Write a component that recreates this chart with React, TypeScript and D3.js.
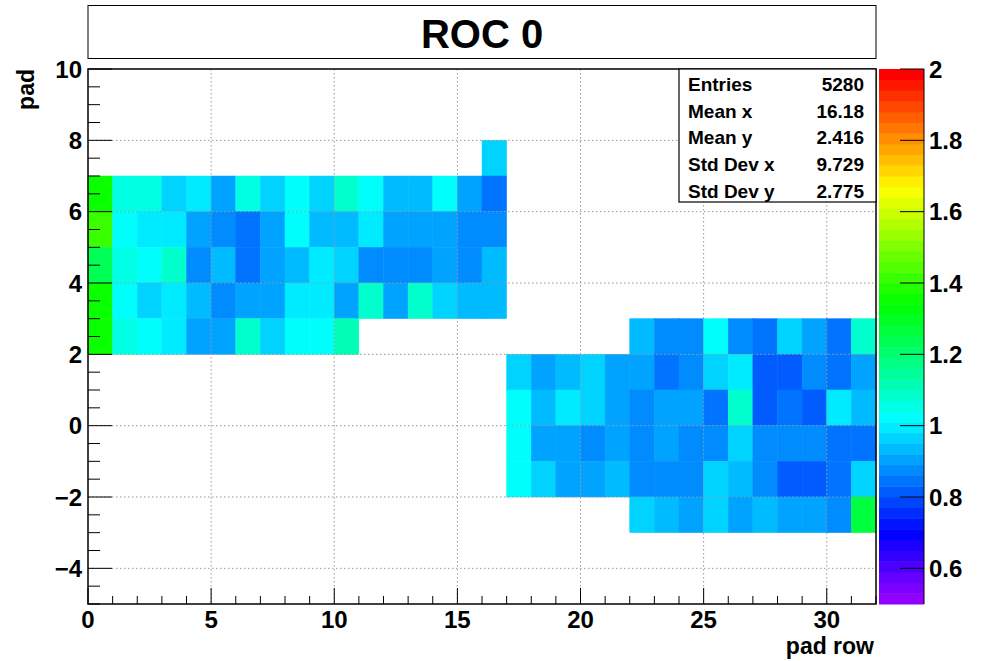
import { useEffect, useRef } from "react";
import * as d3 from "d3";

const N = null;

// one array per pad bin (lower edge), 32 pad-row bins each, null = empty
const padBins = [7, 6, 5, 4, 3, 2, 1, 0, -1, -2, -3];

const pad7 = [N, N, N, N, N, N, N, N, N, N, N, N, N, N, N, N, 0.965, N, N, N, N, N, N, N, N, N, N, N, N, N, N, N];
const pad6 = [1.34, 1.055, 1.055, 0.955, 0.995, 0.905, 1.06, 0.965, 1.025, 0.95, 1.085, 1.025, 0.94, 0.94, 1.025, 0.895, 0.845, N, N, N, N, N, N, N, N, N, N, N, N, N, N, N];
const pad5 = [1.415, 1.025, 0.995, 0.995, 0.905, 0.875, 0.845, 0.905, 1.025, 0.92, 0.92, 0.995, 0.905, 0.905, 0.905, 0.875, 0.875, N, N, N, N, N, N, N, N, N, N, N, N, N, N, N];
const pad4 = [1.235, 1.055, 1.025, 1.07, 0.875, 0.925, 0.845, 0.905, 0.935, 0.995, 0.955, 0.885, 0.875, 0.875, 0.895, 0.875, 0.935, N, N, N, N, N, N, N, N, N, N, N, N, N, N, N];
const pad3 = [1.34, 1.025, 0.965, 0.995, 0.935, 0.875, 0.915, 0.905, 0.995, 0.995, 0.895, 1.085, 0.895, 1.085, 0.965, 0.92, 0.92, N, N, N, N, N, N, N, N, N, N, N, N, N, N, N];
const pad2 = [1.34, 1.055, 1.025, 0.995, 0.905, 0.905, 1.085, 0.95, 1.025, 1.025, 1.12, N, N, N, N, N, N, N, N, N, N, N, 0.935, 0.875, 0.875, 1.025, 0.875, 0.845, 0.965, 0.905, 0.845, 1.085];
const pad1 = [N, N, N, N, N, N, N, N, N, N, N, N, N, N, N, N, N, 0.955, 0.905, 0.92, 0.955, 0.905, 0.915, 0.845, 0.875, 0.965, 0.995, 0.815, 0.815, 0.875, 0.845, 0.895];
const pad0 = [N, N, N, N, N, N, N, N, N, N, N, N, N, N, N, N, N, 1.025, 0.92, 0.995, 0.955, 0.905, 0.875, 0.905, 0.905, 0.845, 1.07, 0.815, 0.845, 0.815, 0.995, 0.935];
const padM1 = [N, N, N, N, N, N, N, N, N, N, N, N, N, N, N, N, N, 1.025, 0.895, 0.895, 0.86, 0.895, 0.875, 0.905, 0.875, 0.875, 0.965, 0.875, 0.875, 0.875, 0.845, 0.845];
const padM2 = [N, N, N, N, N, N, N, N, N, N, N, N, N, N, N, N, N, 1.025, 0.965, 0.895, 0.895, 0.925, 0.875, 0.875, 0.875, 0.965, 0.935, 0.875, 0.815, 0.815, 0.845, 0.965];
const padM3 = [N, N, N, N, N, N, N, N, N, N, N, N, N, N, N, N, N, N, N, N, N, N, 0.965, 0.935, 0.905, 0.965, 0.905, 0.935, 0.905, 0.905, 0.875, 1.265];

const rows = [pad7, pad6, pad5, pad4, pad3, pad2, pad1, pad0, padM1, padM2, padM3];

const xMajor = [0, 5, 10, 15, 20, 25, 30];
const yMajor = [-4, -2, 0, 2, 4, 6, 8, 10];
const zTicks = [0.6, 0.8, 1, 1.2, 1.4, 1.6, 1.8, 2];

const statLabels = ["Entries", "Mean x", "Mean y", "Std Dev x", "Std Dev y"];
const statValues = ["5280", "16.18", "2.416", "9.729", "2.775"];

const FONT = "'Liberation Sans', Arial, Helvetica, sans-serif";

// ROOT "pretty" palette: 50 colours, hue 280 -> 0
const nColors = 50;
const zMin = 0.5;
const zMax = 2;
const paletteColor = (i: number) => d3.hsl(280 - (i + 1) * (280 / nColors), 1, 0.5).formatHex();
const colorOf = (v: number) => {
  let i = Math.floor(((v - zMin) / (zMax - zMin)) * nColors);
  i = Math.max(0, Math.min(nColors - 1, i));
  return paletteColor(i);
};

const App = () => {
  const svgRef = useRef<SVGSVGElement>(null);

  useEffect(() => {
    const left = 88;
    const right = 876;
    const top = 69;
    const bottom = 604;

    const svg = d3.select(svgRef.current);
    svg.selectAll("*").remove();

    const x = d3.scaleLinear().domain([0, 32]).range([left, right]);
    const y = d3.scaleLinear().domain([-5, 10]).range([bottom, top]);
    const z = d3.scaleLinear().domain([zMin, zMax]).range([bottom, top]);

    // title box
    svg.append("rect").attr("x", left).attr("y", 5.5).attr("width", right - left).attr("height", 53)
      .attr("fill", "white").attr("stroke", "black").attr("stroke-width", 1);
    svg.append("text").attr("x", (left + right) / 2).attr("y", 48).attr("text-anchor", "middle")
      .attr("font-family", FONT).attr("font-weight", "bold").attr("font-size", 40).text("ROC 0");

    // cells
    const cells: { px: number; py: number; v: number }[] = [];
    rows.forEach((row, r) => {
      row.forEach((v, c) => {
        if (v !== null) cells.push({ px: c, py: padBins[r], v });
      });
    });
    svg.append("g").selectAll("rect").data(cells).enter().append("rect")
      .attr("x", (d) => x(d.px))
      .attr("y", (d) => y(d.py + 1))
      .attr("width", (d) => x(d.px + 1) - x(d.px))
      .attr("height", (d) => y(d.py) - y(d.py + 1))
      .attr("fill", (d) => colorOf(d.v))
      .attr("stroke", (d) => colorOf(d.v))
      .attr("stroke-width", 0.5);

    // grid
    const grid = svg.append("g").attr("stroke", "#999").attr("stroke-width", 1).attr("stroke-dasharray", "1.5,2.5");
    grid.selectAll(".gx").data(xMajor.filter((v) => v > 0)).enter().append("line")
      .attr("x1", (d) => x(d)).attr("x2", (d) => x(d)).attr("y1", top).attr("y2", bottom);
    grid.selectAll(".gy").data(yMajor.filter((v) => v < 10)).enter().append("line")
      .attr("y1", (d) => y(d)).attr("y2", (d) => y(d)).attr("x1", left).attr("x2", right);

    // ticks
    const ticks = svg.append("g").attr("stroke", "black").attr("stroke-width", 1);
    ticks.selectAll(".tx").data(d3.range(0, 33, 1)).enter().append("line")
      .attr("x1", (d) => x(d)).attr("x2", (d) => x(d)).attr("y1", bottom)
      .attr("y2", (d) => bottom - (d % 5 === 0 ? 16 : 8));
    ticks.selectAll(".ty").data(d3.range(-5, 10.01, 0.5)).enter().append("line")
      .attr("y1", (d) => y(d)).attr("y2", (d) => y(d)).attr("x1", left)
      .attr("x2", (d) => left + (Math.abs(d % 2) < 1e-6 ? 24 : 12));

    // frame
    svg.append("rect").attr("x", left).attr("y", top).attr("width", right - left).attr("height", bottom - top)
      .attr("fill", "none").attr("stroke", "black").attr("stroke-width", 1.5);

    // axis labels
    const txt = (sel: d3.Selection<SVGTextElement, any, any, any>, size: number) =>
      sel.attr("font-family", FONT).attr("font-weight", "bold").attr("font-size", size);
    txt(svg.append("g").selectAll("text").data(xMajor).enter().append("text")
      .attr("x", (d) => x(d)).attr("y", 628).attr("text-anchor", "middle").text((d) => String(d)), 24);
    txt(svg.append("g").selectAll("text").data(yMajor).enter().append("text")
      .attr("x", 82).attr("y", (d) => y(d)).attr("dy", "0.36em").attr("text-anchor", "end")
      .text((d) => (d < 0 ? "\u2212" + Math.abs(d) : String(d))), 24);
    txt(svg.append("text").attr("x", 874).attr("y", 654).attr("text-anchor", "end").text("pad row"), 23);
    txt(svg.append("text").attr("transform", `translate(34,${top}) rotate(-90)`).attr("text-anchor", "end").text("pad"), 23);

    // palette
    const pal = svg.append("g");
    const pl = 879;
    const pr = 924;
    pal.selectAll("rect").data(d3.range(nColors)).enter().append("rect")
      .attr("x", pl).attr("width", pr - pl)
      .attr("y", (i) => z(zMin + ((i + 1) * (zMax - zMin)) / nColors))
      .attr("height", (bottom - top) / nColors + 0.5)
      .attr("fill", (i) => paletteColor(i));
    pal.append("line").attr("x1", pr).attr("x2", pr).attr("y1", top).attr("y2", bottom).attr("stroke", "black");
    pal.selectAll(".zt").data(zTicks).enter().append("line")
      .attr("x1", pr - 24).attr("x2", pr).attr("y1", (d) => z(d)).attr("y2", (d) => z(d)).attr("stroke", "black");
    txt(pal.selectAll(".zl").data(zTicks).enter().append("text")
      .attr("x", 929).attr("y", (d) => z(d)).attr("dy", "0.36em").text((d) => String(d)), 24);

    // stats box
    const sTop = 69;
    const sBot = 202;
    const sl = 679;
    svg.append("rect").attr("x", sl).attr("y", sTop).attr("width", right - sl).attr("height", sBot - sTop)
      .attr("fill", "white").attr("stroke", "black").attr("stroke-width", 1.2);
    const rowH = (sBot - sTop) / statLabels.length;
    txt(svg.append("g").selectAll("text").data(statLabels).enter().append("text")
      .attr("x", 688).attr("y", (d, i) => sTop + rowH * (i + 0.5) + 2).attr("dy", "0.36em").text((d) => d), 19);
    txt(svg.append("g").selectAll("text").data(statValues).enter().append("text")
      .attr("x", 864).attr("y", (d, i) => sTop + rowH * (i + 0.5) + 2).attr("dy", "0.36em")
      .attr("text-anchor", "end").text((d) => d), 19);
  }, []);

  return (
    <svg ref={svgRef} width={981} height={661}
      style={{ position: "absolute", left: 0, top: 0, background: "white" }} />
  );
};

export default App;
